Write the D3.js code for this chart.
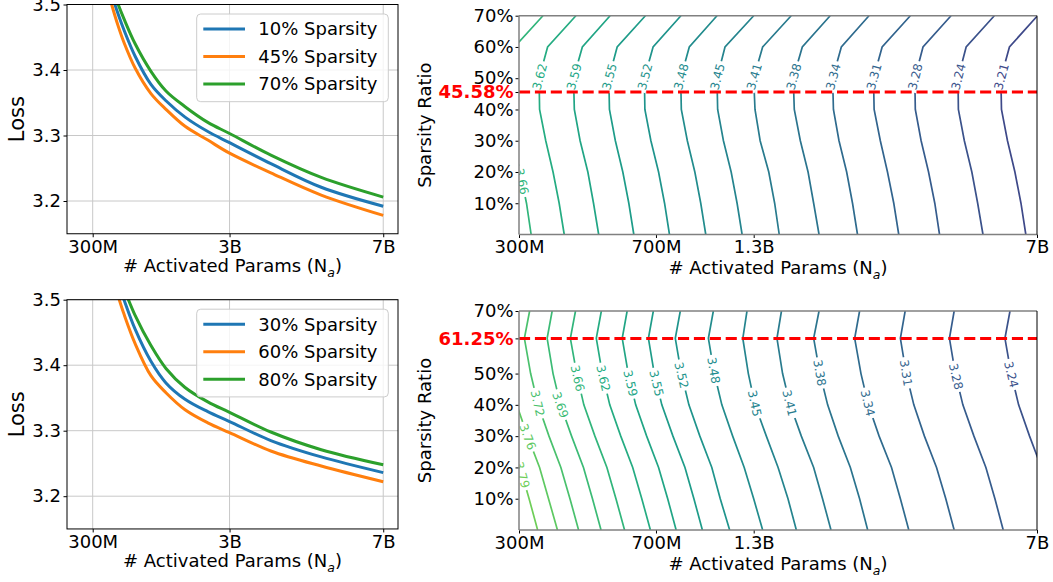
<!DOCTYPE html>
<html><head><meta charset="utf-8">
<script src="https://cdn.jsdelivr.net/npm/d3@7"></script>
<style>
body{margin:0;background:#fff;}
svg{display:block;font-family:"DejaVu Sans",sans-serif;}
</style></head><body>
<svg id="chart" width="1053" height="582"></svg>
<script>
// ================= DATA =================
// Loss curves (left panels): activated params in billions
const lossN = [0.5, 0.6, 0.7, 0.8, 1.0, 1.3, 1.6, 2.0, 2.5, 3.0, 4.0, 5.3, 7.0];
const topNames = ["10% Sparsity", "45% Sparsity", "70% Sparsity"];
const topLoss10 = [3.545, 3.513, 3.485, 3.461, 3.421, 3.378, 3.353, 3.328, 3.306, 3.289, 3.257, 3.221, 3.192];
const topLoss45 = [3.532, 3.497, 3.467, 3.442, 3.403, 3.364, 3.340, 3.314, 3.293, 3.273, 3.243, 3.209, 3.178];
const topLoss70 = [3.558, 3.525, 3.500, 3.478, 3.440, 3.398, 3.368, 3.344, 3.320, 3.303, 3.270, 3.236, 3.206];
const botNames = ["30% Sparsity", "60% Sparsity", "80% Sparsity"];
const botLoss30 = [3.591, 3.554, 3.525, 3.500, 3.455, 3.406, 3.373, 3.348, 3.329, 3.314, 3.285, 3.260, 3.236];
const botLoss60 = [3.573, 3.535, 3.505, 3.478, 3.433, 3.384, 3.358, 3.332, 3.312, 3.297, 3.269, 3.246, 3.222];
const botLoss80 = [3.603, 3.568, 3.540, 3.517, 3.476, 3.430, 3.395, 3.366, 3.344, 3.328, 3.298, 3.271, 3.248];
const lossYTicks = [3.2, 3.3, 3.4, 3.5];
const lossXTicks = [0.3, 3, 7];
const lossXTickLabels = ["300M", "3B", "7B"];

// Contour panels: N (billions) of each iso-loss line at each sparsity row
const topRows = [0, 10, 20, 30, 40, 50, 60, 70];
const topLevels = ["3.66","3.62","3.59","3.55","3.52","3.48","3.45","3.41","3.38","3.34","3.31","3.28","3.24","3.21"];
const topContourN = [
  [0.323, 0.314, 0.302, 0.289, 0.279, 0.278, 0.292, 0.347],
  [0.395, 0.383, 0.369, 0.353, 0.340, 0.339, 0.357, 0.424],
  [0.487, 0.472, 0.456, 0.435, 0.420, 0.418, 0.441, 0.522],
  [0.603, 0.585, 0.564, 0.539, 0.520, 0.518, 0.545, 0.647],
  [0.749, 0.727, 0.701, 0.669, 0.645, 0.643, 0.678, 0.803],
  [0.934, 0.906, 0.874, 0.835, 0.805, 0.802, 0.845, 1.00],
  [1.165, 1.13, 1.09, 1.04, 1.004, 1.00, 1.05, 1.25],
  [1.46, 1.42, 1.37, 1.30, 1.26, 1.25, 1.32, 1.57],
  [1.86, 1.80, 1.74, 1.66, 1.60, 1.59, 1.68, 1.99],
  [2.35, 2.28, 2.20, 2.10, 2.03, 2.02, 2.13, 2.52],
  [3.02, 2.93, 2.82, 2.70, 2.60, 2.59, 2.73, 3.24],
  [3.87, 3.76, 3.62, 3.46, 3.34, 3.33, 3.50, 4.15],
  [5.04, 4.88, 4.71, 4.50, 4.34, 4.33, 4.55, 5.40],
  [6.54, 6.35, 6.12, 5.85, 5.64, 5.62, 5.92, 7.02]
];
const topLabelSparsity = [17, 50.5, 50.5, 50.5, 50.5, 50.5, 50.5, 50.5, 50.5, 50.5, 50.5, 50.5, 50.5, 50.5];
const topOptimal = 45.58;
const topSparsityTicks = [10, 20, 30, 40, 45.58, 50, 60, 70];

const botRows = [0, 10, 20, 30, 40, 50, 61.25, 70];
const botLevels = ["3.79","3.76","3.72","3.69","3.66","3.62","3.59","3.55","3.52","3.48","3.45","3.41","3.38","3.34","3.31","3.28","3.24"];
const botContourN = [
  [0.336, 0.319, 0.302, 0.281, 0.262, 0.251, 0.242, 0.249],
  [0.379, 0.359, 0.340, 0.316, 0.296, 0.283, 0.273, 0.281],
  [0.431, 0.409, 0.387, 0.360, 0.337, 0.322, 0.310, 0.320],
  [0.494, 0.469, 0.444, 0.413, 0.386, 0.369, 0.356, 0.367],
  [0.570, 0.541, 0.512, 0.476, 0.445, 0.426, 0.410, 0.423],
  [0.667, 0.633, 0.599, 0.557, 0.521, 0.498, 0.480, 0.495],
  [0.780, 0.741, 0.701, 0.652, 0.610, 0.583, 0.562, 0.579],
  [0.915, 0.869, 0.823, 0.765, 0.715, 0.683, 0.659, 0.679],
  [1.08, 1.02, 0.969, 0.901, 0.843, 0.805, 0.776, 0.800],
  [1.32, 1.25, 1.18, 1.10, 1.03, 0.984, 0.949, 0.978],
  [1.62, 1.54, 1.45, 1.35, 1.26, 1.21, 1.17, 1.20],
  [2.00, 1.90, 1.80, 1.67, 1.56, 1.49, 1.44, 1.48],
  [2.50, 2.38, 2.25, 2.09, 1.96, 1.87, 1.80, 1.86],
  [3.21, 3.05, 2.89, 2.68, 2.51, 2.40, 2.31, 2.38],
  [4.23, 4.02, 3.80, 3.53, 3.31, 3.16, 3.05, 3.14],
  [5.70, 5.42, 5.13, 4.77, 4.46, 4.26, 4.11, 4.23],
  [8.00, 7.60, 7.19, 6.69, 6.26, 5.98, 5.76, 5.94]
];
const botLabelSparsity = [17.6, 29.8, 40.5, 40, 48.5, 48.5, 46.9, 46.9, 49.5, 51, 40.5, 40.6, 50.2, 40.6, 50.2, 49.1, 49.7];
const botOptimal = 61.25;
const botSparsityTicks = [10, 20, 30, 40, 50, 61.25, 70];

const contourXTicks = [0.3, 0.69, 1.25, 7];
const contourXTickLabels = ["300M", "700M", "1.3B", "7B"];

// ================= DRAW =================
const svg = d3.select("#chart");
const FONT = "DejaVu Sans";
const seriesColors = ["#1f77b4", "#ff7f0e", "#2ca02c"];
const levelColor = d3.scaleSequential(d3.interpolateViridis).domain([2.98, 4.02]);
let clipCount = 0;

function styleAxis(g, size) {
  g.select(".domain").remove();
  g.selectAll("text").attr("font-family", FONT).attr("font-size", size).attr("fill", "#000");
}

function xLabel(cx, y) {
  const t = svg.append("text").attr("x", cx).attr("y", y).attr("text-anchor", "middle")
    .attr("font-family", FONT).attr("font-size", 18).attr("fill", "#000");
  t.append("tspan").text("# Activated Params (N");
  t.append("tspan").attr("dy", 5).attr("font-size", 12.5).attr("font-style", "italic").text("a");
  t.append("tspan").attr("dy", -5).text(")");
}

function drawLossPanel(top, bottom, series, names) {
  const left = 67, right = 398;
  const x = d3.scalePow().exponent(0.78).domain([0.0075, 7.42]).range([left, right]);
  const y = d3.scaleLinear().domain([3.15, 3.5]).range([bottom, top]);
  const g = svg.append("g");
  g.selectAll(null).data(lossXTicks).join("line")
    .attr("x1", d => x(d)).attr("x2", d => x(d)).attr("y1", top).attr("y2", bottom)
    .attr("stroke", "#c8c8c8").attr("stroke-width", 1);
  g.selectAll(null).data(lossYTicks).join("line")
    .attr("x1", left).attr("x2", right).attr("y1", d => y(d)).attr("y2", d => y(d))
    .attr("stroke", "#c8c8c8").attr("stroke-width", 1);

  const id = "clip" + (clipCount++);
  svg.append("clipPath").attr("id", id).append("rect")
    .attr("x", left).attr("y", top).attr("width", right - left).attr("height", bottom - top);
  const line = d3.line().x((d, i) => x(lossN[i])).y(d => y(d)).curve(d3.curveCatmullRom.alpha(0.5));
  series.forEach((s, k) => {
    g.append("path").attr("d", line(s)).attr("clip-path", `url(#${id})`)
      .attr("fill", "none").attr("stroke", seriesColors[k]).attr("stroke-width", 3);
  });

  g.append("g").attr("transform", `translate(0,${bottom})`)
    .call(d3.axisBottom(x).tickValues(lossXTicks).tickFormat((d, i) => lossXTickLabels[i]).tickSize(3.5).tickPadding(2.5))
    .call(a => styleAxis(a, 18));
  g.append("g").attr("transform", `translate(${left},0)`)
    .call(d3.axisLeft(y).tickValues(lossYTicks).tickFormat(d3.format(".1f")).tickSize(3.5).tickPadding(2.5))
    .call(a => styleAxis(a, 18));
  g.append("rect").attr("x", left).attr("y", top).attr("width", right - left).attr("height", bottom - top)
    .attr("fill", "none").attr("stroke", "#000").attr("stroke-width", 1);

  // legend
  const ly = top + 9.5;
  const lg = g.append("g");
  lg.append("rect").attr("x", 196.7).attr("y", ly).attr("width", 191.6).attr("height", 87.7).attr("rx", 4)
    .attr("fill", "#fff").attr("fill-opacity", 0.8).attr("stroke", "#cccccc").attr("stroke-width", 1);
  names.forEach((n, k) => {
    const yy = ly + 15 + k * 27.5;
    lg.append("line").attr("x1", 203.3).attr("x2", 245).attr("y1", yy).attr("y2", yy)
      .attr("stroke", seriesColors[k]).attr("stroke-width", 3);
    lg.append("text").attr("x", 258.3).attr("y", yy).attr("dy", "0.36em")
      .attr("font-family", FONT).attr("font-size", 18).attr("fill", "#000").text(n);
  });

  svg.append("text").attr("transform", `translate(24,${(top + bottom) / 2}) rotate(-90)`)
    .attr("text-anchor", "middle").attr("font-family", FONT).attr("font-size", 21).attr("fill", "#000").text("Loss");
  xLabel((left + right) / 2, bottom + 38.5);
}

function drawContourPanel(top, bottom, rows, levels, contourN, labelS, optimal, yTicks, verticalLabels) {
  const left = 519, right = 1037;
  const x = d3.scaleLog().domain([0.3, 7]).range([left, right]);
  const y = d3.scaleLinear().domain([0, 70]).range([bottom, top]);
  const g = svg.append("g");
  const id = "clip" + (clipCount++);
  svg.append("clipPath").attr("id", id).append("rect")
    .attr("x", left).attr("y", top).attr("width", right - left).attr("height", bottom - top);
  const inner = g.append("g").attr("clip-path", `url(#${id})`);
  const line = d3.line().x(d => d[0]).y(d => d[1]);

  levels.forEach((lv, i) => {
    const pts = contourN[i].map((n, j) => [x(n), y(rows[j])]);
    inner.append("path").attr("d", line(pts)).attr("fill", "none")
      .attr("stroke", levelColor(+lv)).attr("stroke-width", 1.7);
  });
  levels.forEach((lv, i) => {
    const s = labelS[i];
    let j = 0;
    for (let k = 0; k < rows.length - 1; k++) if (s >= rows[k] && s <= rows[k + 1]) { j = k; break; }
    const t = (s - rows[j]) / (rows[j + 1] - rows[j]);
    const x1 = x(contourN[i][j]), y1 = y(rows[j]), x2 = x(contourN[i][j + 1]), y2 = y(rows[j + 1]);
    const px = x1 + (x2 - x1) * t, py = y1 + (y2 - y1) * t;
    let ang = Math.atan2(y1 - y2, x1 - x2) * 180 / Math.PI;
    if (ang > 90) ang -= 180;
    if (ang <= -90) ang += 180;
    if (verticalLabels && Math.abs(ang) > 84) ang = -90;
    const lg = inner.append("g").attr("transform", `translate(${px},${py}) rotate(${ang})`);
    const rect = lg.append("rect").attr("fill", "#fff");
    const txt = lg.append("text").attr("text-anchor", "middle").attr("dy", "0.36em")
      .attr("font-family", FONT).attr("font-size", 12).attr("fill", levelColor(+lv)).text(lv);
    const w = txt.node().getComputedTextLength();
    rect.attr("x", -w / 2 - 2.5).attr("y", -5).attr("width", w + 5).attr("height", 10);
  });

  g.append("line").attr("x1", left).attr("x2", right).attr("y1", y(optimal)).attr("y2", y(optimal))
    .attr("stroke", "#ff0000").attr("stroke-width", 3).attr("stroke-dasharray", "11.1,4.8");

  g.append("g").attr("transform", `translate(0,${bottom})`)
    .call(d3.axisBottom(x).tickValues(contourXTicks).tickFormat((d, i) => contourXTickLabels[i]).tickSize(3.5).tickPadding(2.5))
    .call(a => styleAxis(a, 18));
  const ya = g.append("g").attr("transform", `translate(${left},0)`)
    .call(d3.axisLeft(y).tickValues(yTicks).tickFormat(d => (Number.isInteger(d) ? d : d.toFixed(2)) + "%").tickSize(3.5).tickPadding(2))
    .call(a => styleAxis(a, 18));
  ya.selectAll(".tick").filter(d => d === optimal).select("text")
    .attr("fill", "#ff0000").attr("font-weight", "bold");

  g.append("line").attr("x1", left).attr("x2", right).attr("y1", top).attr("y2", top).attr("stroke", "#808080").attr("stroke-width", 1.5);
  g.append("line").attr("x1", left).attr("x2", right).attr("y1", bottom).attr("y2", bottom).attr("stroke", "#808080").attr("stroke-width", 1.5);
  g.append("line").attr("x1", left).attr("x2", left).attr("y1", top).attr("y2", bottom).attr("stroke", "#808080").attr("stroke-width", 1.5);
  g.append("line").attr("x1", right).attr("x2", right).attr("y1", top).attr("y2", bottom).attr("stroke", "#000").attr("stroke-width", 1);

  svg.append("text").attr("transform", `translate(431,${(top + bottom) / 2}) rotate(-90)`)
    .attr("text-anchor", "middle").attr("font-family", FONT).attr("font-size", 18).attr("fill", "#000").text("Sparsity Ratio");
  xLabel((left + right) / 2, bottom + 39.5);
}

drawLossPanel(4.5, 233.75, [topLoss10, topLoss45, topLoss70], topNames);
drawLossPanel(299.7, 528.95, [botLoss30, botLoss60, botLoss80], botNames);
drawContourPanel(15.7, 234.5, topRows, topLevels, topContourN, topLabelSparsity, topOptimal, topSparsityTicks, true);
drawContourPanel(311, 530, botRows, botLevels, botContourN, botLabelSparsity, botOptimal, botSparsityTicks, false);
</script>
</body></html>
